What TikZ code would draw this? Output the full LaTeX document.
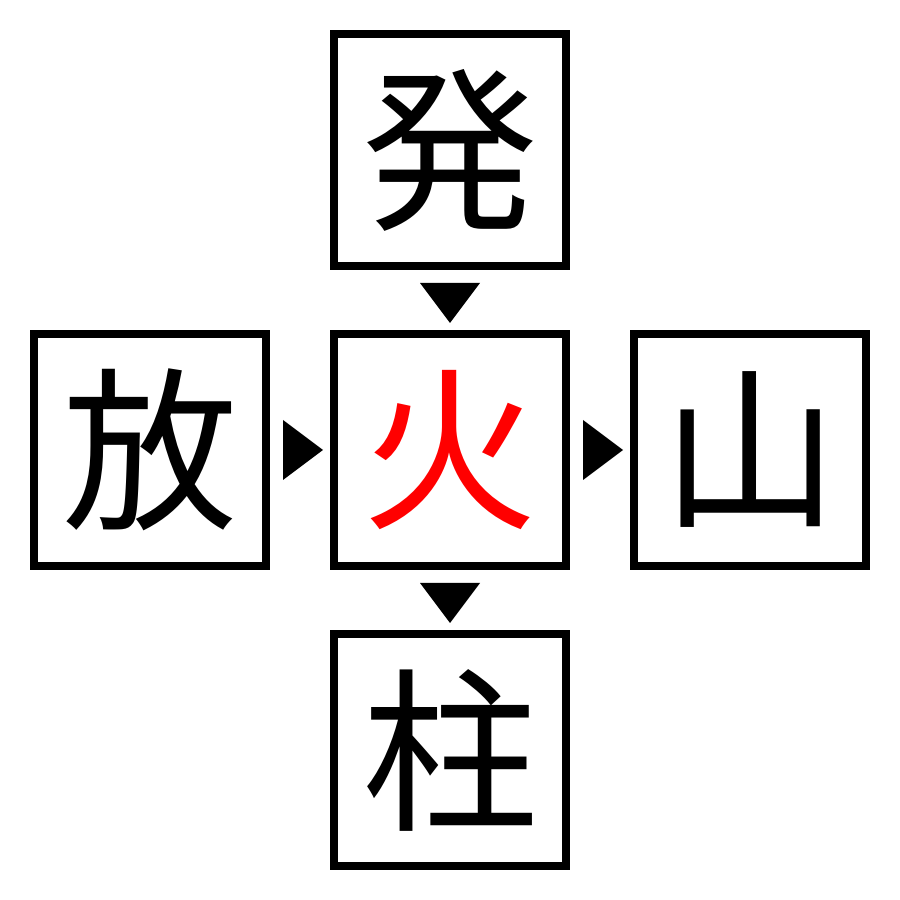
\documentclass[tikz,border=0pt]{standalone}
\usepackage{fontspec}
\newfontfamily\jpfont{Noto Sans CJK JP}
\usetikzlibrary{calc, positioning}
\tikzset{
    kanji/.style={rectangle, draw=black, line width=0.08cm, minimum size=2.32cm, inner sep=0pt, font=\jpfont\fontsize{50}{50}\selectfont},
    pointer/.style={fill=black}
}
\begin{document}
\begin{tikzpicture}
    \useasboundingbox (0,0) rectangle (9,9);

    % Centre word and its neighbours
    \node[kanji, text=red] (Hi) at (4.5,4.5) {火};
    \node[kanji, above=0.6cm of Hi] (Hatsu) {発};
    \node[kanji, left=0.6cm of Hi] (Hou) {放};
    \node[kanji, right=0.6cm of Hi] (Yama) {山};
    \node[kanji, below=0.6cm of Hi] (Hashira) {柱};

    % Pointers
    \fill[pointer] ($(Hatsu.south)+(-0.3,-0.13)$) -- ++(0.6,0) -- ($(Hi.north)+(0,0.07)$) -- cycle;
    \fill[pointer] ($(Hi.south)+(-0.3,-0.13)$) -- ++(0.6,0) -- ($(Hashira.north)+(0,0.07)$) -- cycle;
    \fill[pointer] ($(Hou.east)+(0.13,0.3)$) -- ++(0,-0.6) -- ($(Hi.west)+(-0.07,0)$) -- cycle;
    \fill[pointer] ($(Hi.east)+(0.13,0.3)$) -- ++(0,-0.6) -- ($(Yama.west)+(-0.07,0)$) -- cycle;
\end{tikzpicture}
\end{document}
